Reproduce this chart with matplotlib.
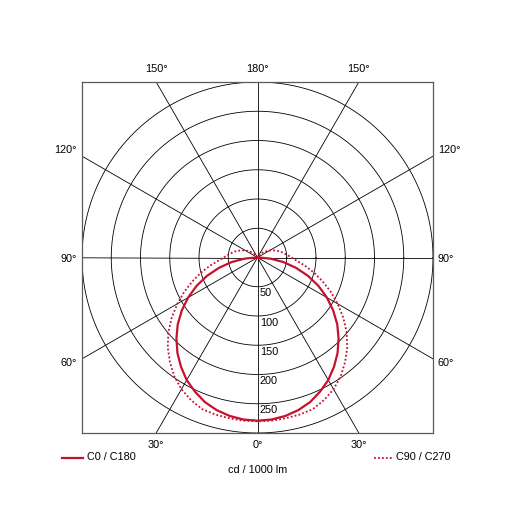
import numpy as np
import matplotlib
matplotlib.use("Agg")
import matplotlib.pyplot as plt

plt.rcParams['font.family'] = ['Liberation Sans', 'DejaVu Sans']

# gamma angle (deg) and intensity (cd / 1000 lm)
gamma = [0, 5, 10, 15, 20, 25, 30, 35, 40, 45, 50, 55, 60, 65, 70, 75, 80, 85, 90,
         95, 100, 105, 110, 115, 120, 125, 130, 135, 140, 145, 150, 160, 170, 180]
c0_c180 = [279, 278, 275, 270, 263, 253, 242, 228, 213, 196, 178, 158, 137, 115, 92, 68, 45, 22, 2,
           0, 0, 0, 0, 0, 0, 0, 0, 0, 0, 0, 0, 0, 0, 0]
c90_c270 = [280, 280, 279, 278, 276, 269, 260, 248, 233, 217, 199, 179, 158, 138, 118, 100, 83, 68, 58,
            51, 45, 40, 34, 29, 24, 19, 15, 11, 8, 5, 3, 1, 0, 0]

rings = [50, 100, 150, 200, 250, 300]
ring_labels = ["50", "100", "150", "200", "250"]
rmax = 300

red = "#c8102e"
PX = 0.72  # points per pixel at 100 dpi

fig = plt.figure(figsize=(5.15, 5.15), dpi=100)
ax = fig.add_axes([82 / 515, 82 / 515, 351 / 515, 351 / 515])
ax.set_xlim(-rmax, rmax)
ax.set_ylim(-rmax, rmax)
ax.set_aspect("equal")
ax.set_xticks([])
ax.set_yticks([])
for s in ax.spines.values():
    s.set_color("#5a5a5a")
    s.set_linewidth(0.9)


def to_xy(g, r, side=1):
    g = np.radians(np.asarray(g, dtype=float))
    r = np.asarray(r, dtype=float)
    return side * r * np.sin(g), -r * np.cos(g)


# rings
t = np.linspace(0, 2 * np.pi, 721)
for r in rings:
    ax.plot(r * np.cos(t), r * np.sin(t), color="black", lw=0.6, zorder=1)

# radial lines every 30 deg
for a in range(0, 360, 30):
    x, y = to_xy([a, a], [0, 2 * rmax])
    ax.plot(x, y, color="black", lw=0.6, zorder=1)

# curves, mirrored for both halves
for vals, ls, lw in [(c90_c270, (0, (1, 1.2)), 1.3), (c0_c180, "-", 1.6)]:
    xl, yl = to_xy(gamma[::-1], vals[::-1], side=-1)
    xr, yr = to_xy(gamma[1:], vals[1:], side=1)
    ax.plot(np.r_[xl, xr], np.r_[yl, yr], color=red, lw=lw, ls=ls, zorder=3)

fs = 7.8
# ring labels on the 0 deg axis
for r, lab in zip(rings, ring_labels):
    ax.annotate(lab, (0, -r), xytext=(2.5 * PX, -1.5 * PX), textcoords="offset points",
                ha="left", va="top", fontsize=fs, zorder=4)

# angle labels outside the frame
for a, side in zip([150, 180, 150], [-1, 0, 1]):
    x = side * rmax * np.tan(np.radians(180 - a)) if side else 0
    ax.annotate("%d°" % a, (x, rmax), xytext=(0, 12.5 * PX), textcoords="offset points",
                ha="center", va="center", fontsize=fs)
for a, side in zip([30, 0, 30], [-1, 0, 1]):
    x = side * rmax * np.tan(np.radians(a))
    ax.annotate("%d°" % a, (x, -rmax), xytext=(0, -12 * PX), textcoords="offset points",
                ha="center", va="center", fontsize=fs)
for a in [120, 90, 60]:
    y = -rmax / np.tan(np.radians(a))
    dy = {120: 6, 90: -1.5, 60: -4.5}[a] * PX
    ax.annotate("%d°" % a, (-rmax, y), xytext=(-5 * PX, dy), textcoords="offset points",
                ha="right", va="center", fontsize=fs)
    ax.annotate("%d°" % a, (rmax, y), xytext=(5 * PX, dy), textcoords="offset points",
                ha="left", va="center", fontsize=fs)

# legend row
ly = 1 - 457.5 / 515
fig.add_artist(plt.Line2D([62 / 515, 83 / 515], [ly, ly], color=red, lw=1.6))
fig.text(87 / 515, ly, "C0 / C180", ha="left", va="center", fontsize=fs)
fig.add_artist(plt.Line2D([374 / 515, 394 / 515], [ly, ly], color=red, lw=1.3,
                          ls=(0, (1, 1.2))))
fig.text(451 / 515, ly, "C90 / C270", ha="right", va="center", fontsize=fs)
fig.text(257.5 / 515, 1 - 470 / 515, "cd / 1000 lm", ha="center", va="center", fontsize=fs)

fig.savefig("out.png", dpi=100, facecolor="white")
